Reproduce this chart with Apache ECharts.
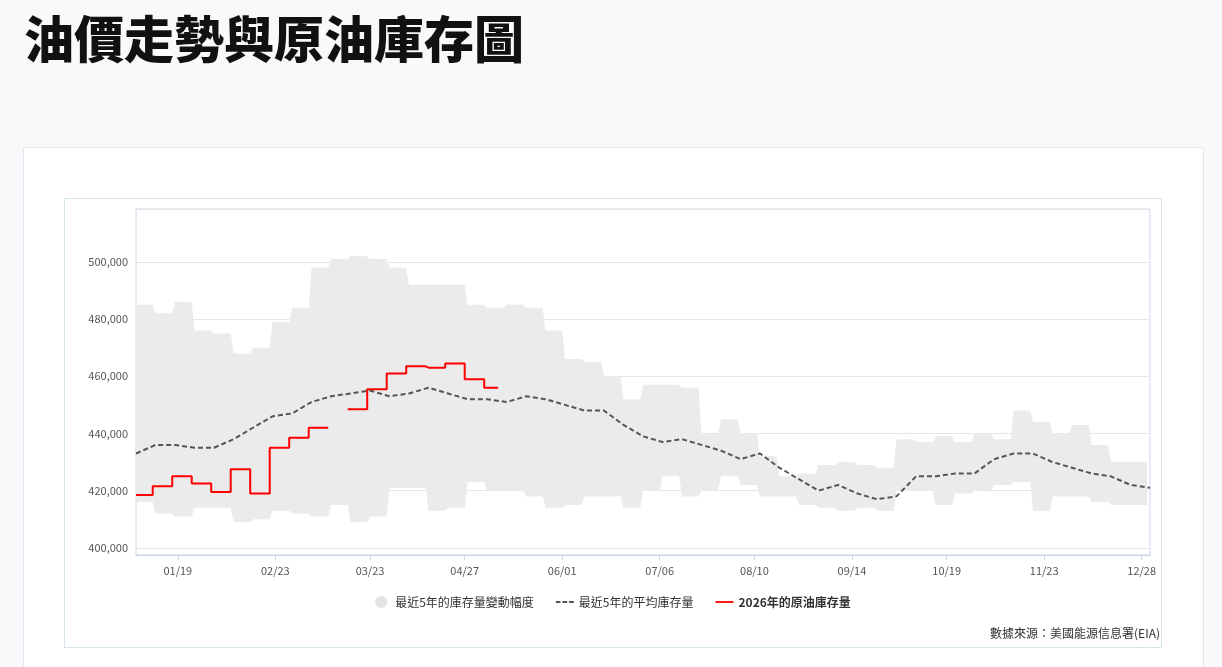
<!DOCTYPE html>
<html><head><meta charset="utf-8">
<script src="https://cdn.jsdelivr.net/npm/echarts@6/dist/echarts.min.js"></script>
<style>
body{margin:0;background:#f8f9fb;font-family:"Noto Sans CJK TC","Noto Sans",sans-serif;}
h1{position:absolute;left:24px;top:0px;margin:0;font-size:50px;font-weight:900;color:#111;}
#card{position:absolute;left:23px;top:147px;width:1179px;height:540px;background:#fff;border:1px solid #e3e6ea;}
#chart{position:absolute;left:64px;top:198px;width:1098px;height:450px;border:1px solid #d5e3ea;box-sizing:border-box;}
#src{position:absolute;right:62px;top:624px;font-size:12px;color:#333;}
</style></head><body>
<h1>油價走勢與原油庫存圖</h1>
<div id="card"></div>
<div id="chart"></div>
<div id="src">數據來源：美國能源信息署(EIA)</div>
<script>
// weekly values (thousand barrels), 52 weeks
const bandUpper = [485,482,486,476,475,468,470,479,484,498,501,502,501,498,492,492,492,485,484,485,484,476,466,465,460,452,457,457,456,440,445,440,432,425,426,429,430,429,428,438,437,439,437,440,438,448,444,440,443,436,430,430];
const bandLower = [416,412,411,414,414,409,410,413,412,411,415,409,411,421,421,413,414,423,420,420,418,414,415,418,418,414,420,425,418,420,425,422,418,418,415,414,413,414,413,420,420,415,419,420,422,423,413,418,418,416,415,415];
const avgWeekly = [433,436,436,435,435,438,442,446,447,451,453,454,455,453,454,456,454,452,452,451,453,452,450,448,448,443,439,437,438,436,434,431,433,428,424,420,422,419,417,418,425,425,426,426,431,433,433,430,428,426,425,422,421];
const red2026 = [418.5,421.5,425,422.5,419.5,427.5,419,435,438.5,442,null,448.5,455.5,461,463.5,463,464.5,459,456];
const tickLabels = {15:'01/19',50:'02/23',84:'03/23',118:'04/27',153:'06/01',188:'07/06',222:'08/10',257:'09/14',291:'10/19',326:'11/23',361:'12/28'};
const nDays = 365;

const days = [], lower = [], span = [], red = [];
for (let d = 0; d < nDays; d++) {
  const w = Math.floor(d / 7);
  days.push(tickLabels[d] || String(d));
  lower.push(bandLower[w] * 1000);
  span.push((bandUpper[w] - bandLower[w]) * 1000);
  const r = red2026[w];
  red.push(r == null || d > 130 ? null : r * 1000);
}
const avg = avgWeekly.map((v, i) => [Math.min(i * 7, nDays - 1), v * 1000]);

const lineIcon = 'path://M0,0H20V2H0Z';
const dashIcon = 'path://M0,0H5V2H0ZM7,0H12V2H7ZM14,0H19V2H14Z';
const chart = echarts.init(document.getElementById('chart'));
chart.setOption({
  animation: false,
  textStyle: {fontFamily: '"Noto Sans CJK TC", "Noto Sans", sans-serif'},
  grid: {left: 71, top: 10, right: 11, bottom: 92, show: true, borderColor: '#ccd6eb', borderWidth: 1},
  legend: {
    bottom: 34, itemGap: 22, itemWidth: 18, itemHeight: 12,
    textStyle: {color: '#333', fontSize: 12},
    data: [
      {name: '最近5年的庫存量變動幅度', icon: 'circle'},
      {name: '最近5年的平均庫存量', icon: dashIcon, itemHeight: 2},
      {name: '2026年的原油庫存量', icon: lineIcon, itemHeight: 2, textStyle: {fontWeight: 'bold'}}
    ]
  },
  xAxis: {
    type: 'category', data: days, boundaryGap: false,
    axisLine: {lineStyle: {color: '#ccd6eb'}},
    axisTick: {interval: (i) => tickLabels[i] !== undefined, lineStyle: {color: '#ccd6eb'}},
    axisLabel: {interval: (i) => tickLabels[i] !== undefined, color: '#555', fontSize: 11, margin: 10}
  },
  yAxis: {
    type: 'value', min: 397500, max: 518500,
    axisLine: {show: false}, axisTick: {show: false},
    splitLine: {lineStyle: {color: '#e6e6e6'}},
    axisLabel: {color: '#555', fontSize: 11, showMaxLabel: false,
      formatter: (v) => v % 20000 === 0 ? v.toLocaleString('en-US') : ''}
  },
  series: [
    {name: 'base', type: 'line', stack: 'band', data: lower, symbol: 'none', lineStyle: {opacity: 0}, silent: true},
    {name: '最近5年的庫存量變動幅度', type: 'line', stack: 'band', data: span, symbol: 'none',
      lineStyle: {opacity: 0}, areaStyle: {color: '#ebebeb', opacity: 1}, itemStyle: {color: '#e3e3e3'}},
    {name: '最近5年的平均庫存量', type: 'line', data: avg, symbol: 'none',
      lineStyle: {color: '#555', width: 2, type: [5, 3]}, itemStyle: {color: '#555'}},
    {name: '2026年的原油庫存量', type: 'line', data: red, symbol: 'none', step: 'start',
      lineStyle: {color: '#ff0000', width: 2}, itemStyle: {color: '#ff0000'}}
  ]
});
</script>
</body></html>
